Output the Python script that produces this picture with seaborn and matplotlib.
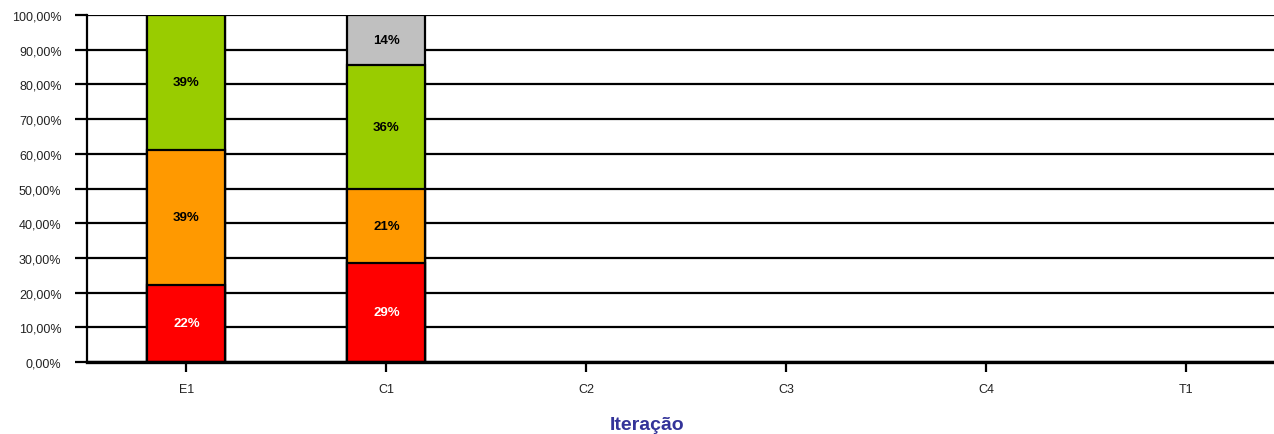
import matplotlib
matplotlib.use("Agg")
import matplotlib.pyplot as plt
import seaborn as sns
import numpy as np
import pandas as pd

# Iterations and share of items per status (percent)
iteracoes = ["E1", "C1", "C2", "C3", "C4", "T1"]
vermelho = [22.22, 28.57, 0, 0, 0, 0]
laranja = [38.89, 21.43, 0, 0, 0, 0]
verde = [38.89, 35.71, 0, 0, 0, 0]
cinza = [0, 14.29, 0, 0, 0, 0]

series = [("vermelho", vermelho, "#FF0000", "white"),
          ("laranja", laranja, "#FF9900", "black"),
          ("verde", verde, "#99CC00", "black"),
          ("cinza", cinza, "#C0C0C0", "black")]

sns.set_theme(style="white")
plt.rcParams["font.family"] = ["Liberation Sans", "DejaVu Sans"]

fig = plt.figure(figsize=(12.74, 4.35), dpi=100)
# plot area runs past the right edge of the figure
ax = fig.add_axes([86.5 / 1274, 72 / 435, 1200 / 1274, 347 / 435])

# cumulative tops, drawn from the tallest down so each segment shows
cum = np.cumsum(np.array([s[1] for s in series]), axis=0)
for i in range(len(series) - 1, -1, -1):
    df = pd.DataFrame({"it": iteracoes, "v": cum[i]})
    sns.barplot(data=df, x="it", y="v", order=iteracoes, color=series[i][2],
                saturation=1, width=0.39, edgecolor="black", linewidth=1.6,
                ax=ax, zorder=3)

# empty iterations have no bar
for p in ax.patches:
    if p.get_height() == 0:
        p.set_visible(False)

# segment labels
for i, (name, vals, col, tcol) in enumerate(series):
    base = cum[i] - np.array(vals)
    for x, (b, v) in enumerate(zip(base, vals)):
        if v > 0:
            ax.text(x, b + v / 2, f"{v:.0f}%", ha="center", va="center",
                    fontsize=9.5, fontweight="bold", color=tcol, zorder=4)

ax.set_xlim(-0.5, 5.5)
ax.set_ylim(0, 100)
ax.set_yticks(np.arange(0, 101, 10))
ax.set_yticklabels([f"{t},00%" for t in range(0, 101, 10)], fontsize=9,
                   color="#222222")
ax.tick_params(axis="x", labelsize=9, colors="#222222")
ax.tick_params(axis="both", which="major", direction="out",
               width=1.6, color="black", left=True, bottom=True)
ax.tick_params(axis="y", length=9, pad=9)
ax.tick_params(axis="x", length=7, pad=8)
ax.yaxis.grid(True, color="black", linewidth=1.6)
ax.set_axisbelow(True)
for sp in ["top", "right"]:
    ax.spines[sp].set_visible(False)
ax.spines["left"].set_color("black")
ax.spines["left"].set_linewidth(1.6)
ax.spines["bottom"].set_color("black")
ax.spines["bottom"].set_linewidth(2.4)
ax.spines["bottom"].set_zorder(5)

ax.set_ylabel("")
ax.set_xlabel("Iteração", fontsize=14, fontweight="bold", color="#333399")
ax.xaxis.set_label_coords((647 - 86.5) / 1200, -63 / 347)
ax.xaxis.label.set_va("center")

fig.savefig("out.png", dpi=100)
